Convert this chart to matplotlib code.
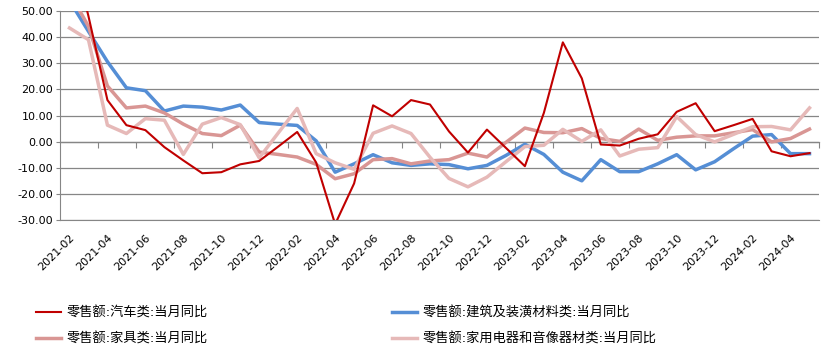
import numpy as np
import pandas as pd
import matplotlib
matplotlib.use("Agg")
import matplotlib.pyplot as plt

plt.rcParams['font.family'] = ['DejaVu Sans', 'Noto Sans CJK SC']

# 月份 2021-02 ... 2024-05
months = [p.strftime('%Y-%m') for p in pd.period_range('2021-02', '2024-05', freq='M')]

# 零售额 当月同比, %
car = [77.6, 48.0, 15.9, 6.3, 4.4, -2.1, -7.2, -12.1, -11.7, -8.7,
       -7.4, -1.9, 3.7, -8.0, -31.6, -16.0, 13.9, 9.7, 15.9, 14.2,
       3.9, -4.2, 4.6, -2.4, -9.4, 11.0, 38.0, 24.2, -1.1, -1.5,
       1.1, 2.8, 11.4, 14.7, 4.0, 6.3, 8.7, -3.7, -5.6, -4.4]
building = [54.0, 42.2, 30.6, 20.6, 19.5, 11.7, 13.6, 13.2, 12.1, 14.0,
            7.3, 6.7, 6.2, 0.3, -11.7, -8.5, -5.0, -8.1, -9.1, -8.5,
            -8.8, -10.4, -9.1, -5.3, -1.0, -4.9, -11.7, -15.0, -6.9, -11.5,
            -11.5, -8.5, -5.0, -10.8, -7.7, -2.7, 2.1, 2.7, -4.6, -4.6]
furniture = [57.1, 44.1, 21.3, 12.9, 13.6, 11.0, 6.7, 3.1, 2.3, 6.3,
             -4.0, -4.9, -5.9, -8.7, -14.2, -12.3, -6.9, -6.5, -8.5, -7.4,
             -6.9, -4.4, -5.9, -0.3, 5.2, 3.5, 3.4, 5.0, 1.2, 0.1,
             4.8, 0.5, 1.7, 2.2, 2.2, 3.4, 4.6, -0.1, 1.2, 4.8]
appliance = [43.5, 39.0, 6.3, 3.1, 8.8, 8.2, -4.9, 6.7, 9.2, 6.5,
             -6.2, 3.3, 12.7, -4.6, -8.1, -10.6, 3.2, 6.0, 3.1, -6.0,
             -14.1, -17.3, -13.6, -7.7, -1.9, -1.4, 4.7, 0.1, 4.5, -5.5,
             -2.9, -2.3, 9.6, 2.7, -0.1, 2.8, 5.7, 5.8, 4.5, 12.9]

labels = ['零售额:汽车类:当月同比', '零售额:建筑及装潢材料类:当月同比',
          '零售额:家具类:当月同比', '零售额:家用电器和音像器材类:当月同比']

grid_c = '#868686'
x = np.arange(len(months))

fig = plt.figure(figsize=(8.3, 3.57), dpi=100)
ax = fig.add_axes([60/830, 1-220/357, 759/830, 209/357])

l1, = ax.plot(x, car, color='#C00000', lw=1.5)
l2, = ax.plot(x, building, color='#558ED5', lw=2.5)
l3, = ax.plot(x, furniture, color='#D99694', lw=2.5)
l4, = ax.plot(x, appliance, color='#E6B9B8', lw=2.5)
# порядок отрисовки как в исходнике
l2.set_zorder(3); l3.set_zorder(4); l4.set_zorder(5); l1.set_zorder(6)

ax.set_xlim(-0.5, len(months) - 0.5)
ax.set_ylim(-30, 50)
ax.set_yticks(np.arange(-30, 51, 10))
ax.yaxis.set_major_formatter(matplotlib.ticker.FormatStrFormatter('%.2f'))
ax.grid(axis='y', color=grid_c, lw=0.9)
ax.set_axisbelow(True)

ax.set_xticks(x[::2])
ax.set_xticklabels(months[::2], rotation=45, ha='right', rotation_mode='anchor')
ax.tick_params(axis='x', length=0, pad=9, labelsize=8, colors='black')
ax.tick_params(axis='y', length=3, color=grid_c, labelsize=8, pad=2)

for s in ['top', 'right']:
    ax.spines[s].set_visible(False)
ax.spines['left'].set_color(grid_c)
ax.spines['bottom'].set_color(grid_c)

# ось категорий проходит через 0
sec = ax.secondary_xaxis(30/80)
sec.set_xticks(np.arange(1.5, len(months), 2))
sec.tick_params(length=4, color=grid_c, labelbottom=False, direction='out')
sec.spines['bottom'].set_color(grid_c)
sec.spines['bottom'].set_linewidth(0.9)

fig.legend([l1, l3, l2, l4], [labels[0], labels[2], labels[1], labels[3]],
           ncol=2, loc='upper left', bbox_to_anchor=(24/830, 1-295/357),
           frameon=False, fontsize=9.5, handlelength=1.9, handletextpad=0.4,
           columnspacing=14.0, labelspacing=0.95)

fig.savefig('out.png', dpi=100)
